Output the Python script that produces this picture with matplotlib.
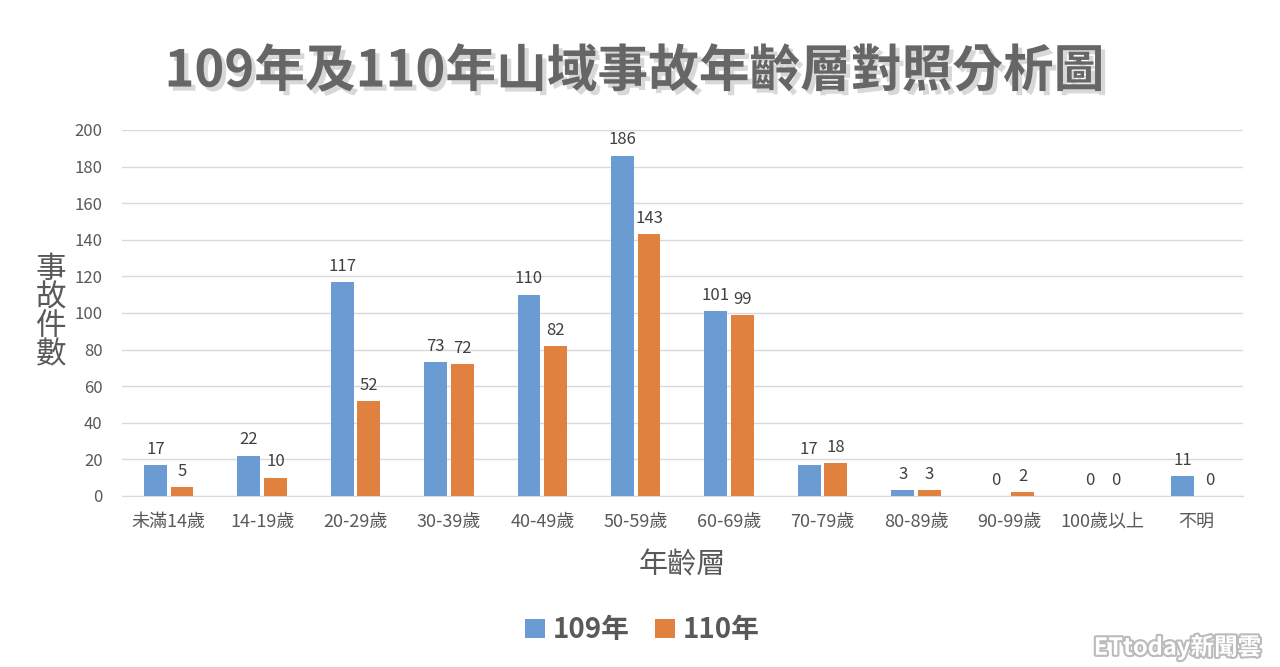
import numpy as np
import matplotlib
matplotlib.use("Agg")
import matplotlib.pyplot as plt
import matplotlib.patheffects as pe

plt.rcParams['font.family'] = ['Noto Sans CJK TC', 'DejaVu Sans']

categories = ['未滿14歲', '14-19歲', '20-29歲', '30-39歲', '40-49歲', '50-59歲',
              '60-69歲', '70-79歲', '80-89歲', '90-99歲', '100歲以上', '不明']
y109 = [17, 22, 117, 73, 110, 186, 101, 17, 3, 0, 0, 11]
y110 = [5, 10, 52, 72, 82, 143, 99, 18, 3, 2, 0, 0]

c_blue = '#6A9BD3'
c_orange = '#E0813F'
txt = '#595959'

fig = plt.figure(figsize=(12.8, 6.67), dpi=100)
ax = fig.add_axes([0.0953, 0.2564, 0.8757, 0.5487])

x = np.arange(len(categories))
w = 0.245
gap = 0.02
b1 = ax.bar(x - w / 2 - gap, y109, w, color=c_blue, label='109年', zorder=3)
b2 = ax.bar(x + w / 2 + gap, y110, w, color=c_orange, label='110年', zorder=3)

for bars, vals in ((b1, y109), (b2, y110)):
    for r, v in zip(bars, vals):
        ax.text(r.get_x() + r.get_width() / 2, v + 4, str(v), ha='center', va='bottom',
                fontsize=12, color='#404040')

ax.set_xlim(-0.5, len(categories) - 0.5)
ax.set_ylim(0, 200)
ax.set_yticks(range(0, 201, 20))
ax.set_xticks(x)
ax.set_xticklabels(categories, fontsize=13, color=txt)
ax.tick_params(axis='y', labelsize=12, colors=txt, length=0, pad=14)
ax.tick_params(axis='x', length=0, pad=12)
ax.grid(axis='y', color='#D9D9D9', linewidth=1, zorder=0)
for s in ['top', 'right', 'left']:
    ax.spines[s].set_visible(False)
ax.spines['bottom'].set_color('#D9D9D9')

fig.text(0.496, 0.892, '109年及110年山域事故年齡層對照分析圖', ha='center', va='center',
         fontsize=36.5, fontweight='bold', color='#666666',
         path_effects=[pe.SimplePatchShadow(offset=(3, -3), shadow_rgbFace='#AAAAAA', alpha=0.45),
                       pe.Normal()])

fig.text(0.040, 0.532, '事\n故\n件\n數', ha='center', va='center', fontsize=22,
         color=txt, linespacing=0.9)
ax.set_xlabel('年齡層', fontsize=21, color=txt, labelpad=14)

leg = fig.legend(handles=[b1, b2], loc='center', bbox_to_anchor=(0.502, 0.055),
                 ncol=2, frameon=False, fontsize=20, handlelength=0.7, handleheight=0.7,
                 handletextpad=0.3, columnspacing=0.9)
for t in leg.get_texts():
    t.set_color(txt)
    t.set_fontweight('bold')

fig.text(0.92, 0.03, 'ETtoday新聞雲', ha='center', va='center', fontsize=17,
         fontweight='bold', color='white',
         path_effects=[pe.withStroke(linewidth=3, foreground='#BBBBBB')])

fig.savefig('out.png', dpi=100, facecolor='white')
